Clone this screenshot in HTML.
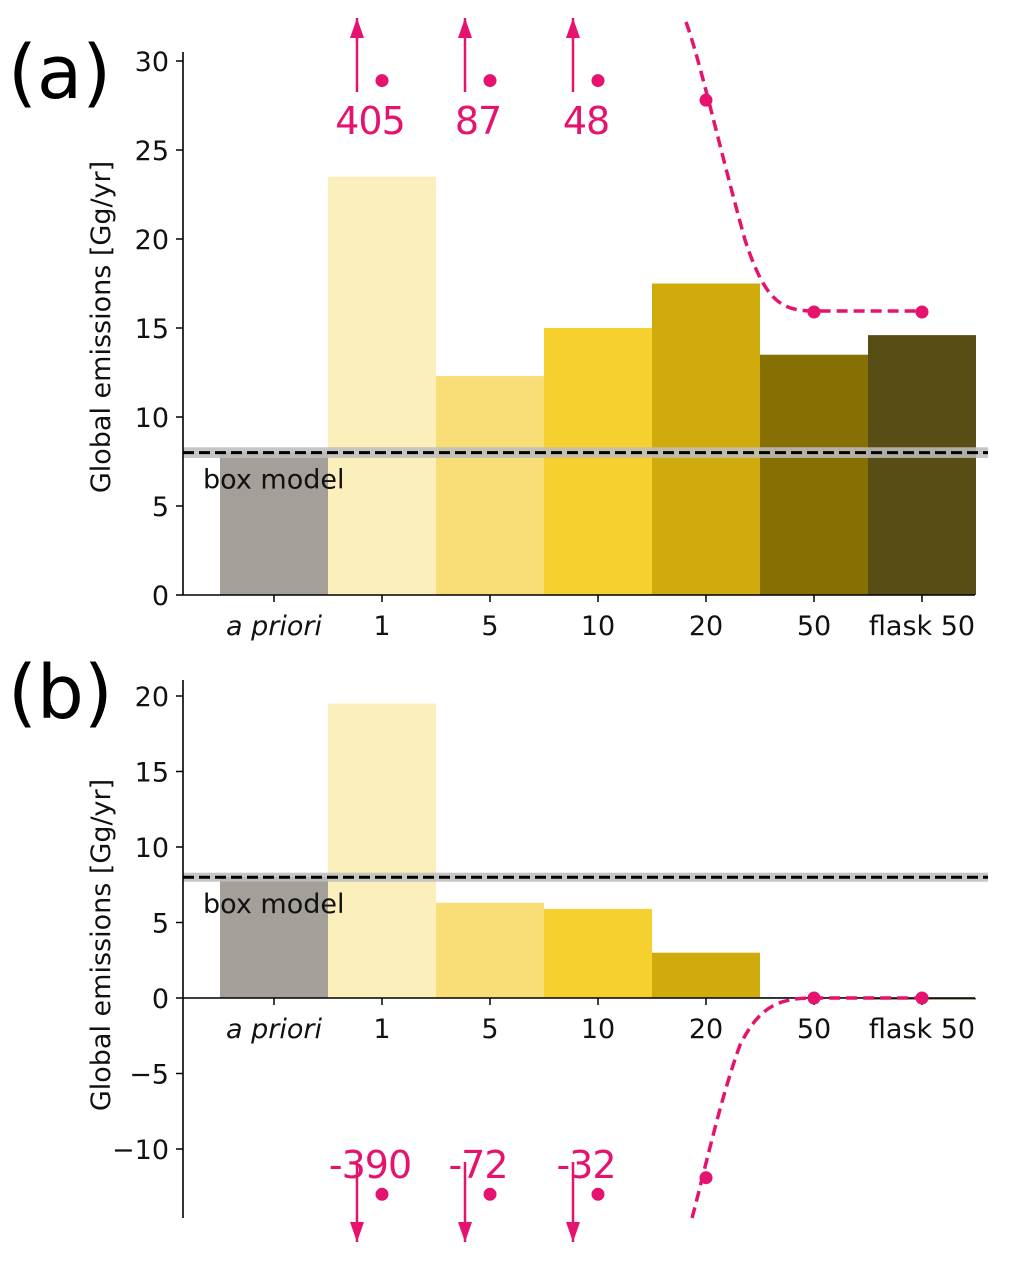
<!DOCTYPE html>
<html><head><meta charset="utf-8">
<style>
html,body{margin:0;padding:0;background:#fff;}
svg{display:block;font-family:"DejaVu Sans","Liberation Sans",sans-serif;}
</style></head>
<body>
<svg id="chart" width="1033" height="1284" viewBox="0 0 1033 1284"></svg>
<script>
const categories = ["a priori","1","5","10","20","50","flask 50"];
const colors = ["#a59f9a","#fbefbb","#f9de78","#f5d02e","#cfab0c","#877003","#594d16"];
const valuesA = [8.0,23.5,12.3,15.0,17.5,13.5,14.6];
const valuesB = [8.0,19.5,6.3,5.9,3.0,0.05,-0.1];
const ticksA = [0,5,10,15,20,25,30];
const ticksB = [-10,-5,0,5,10,15,20];
const boxModel = 8.0;
const offscaleLabelsA = ["405","87","48"];
const offscaleLabelsB = ["-390","-72","-32"];
const dotsA = [28.9,28.9,28.9,27.8,15.9,15.9];
const dotsB = [-13,-13,-13,-11.9,0,0];

const svg = document.getElementById('chart');
const NS = "http://www.w3.org/2000/svg";
const PINK = "#e5126e";
const FS = 27;
function mk(tag, attrs, parent){
  const e = document.createElementNS(NS, tag);
  for (const k in attrs) e.setAttribute(k, attrs[k]);
  (parent||svg).appendChild(e);
  return e;
}
const xC = i => 274 + i*108;
const BW = 108;

function panel(p){
  const g = mk('g',{});
  
  
  const y = v => p.y0 - v*p.scale;
  p.values.forEach((v,i)=>{
    const r = mk('rect',{x:xC(i)-BW/2, y:Math.min(y(v),y(0)), width:BW, height:Math.abs(y(v)-y(0)), fill:colors[i]}, g);
    
    
  });
  const band = mk('rect',{x:183, y:y(boxModel+0.3), width:805, height:y(boxModel-0.3)-y(boxModel+0.3), fill:"#bdbdbd", opacity:0.85}, g);
  
  
  const bl = mk('line',{x1:183, x2:988, y1:y(boxModel), y2:y(boxModel), stroke:"#000", "stroke-width":3, "stroke-dasharray":"11,5"}, g);
  
  
  const bt = mk('text',{x:203, y:y(boxModel)+36, "font-size":FS, fill:"#111"}, g);
  bt.textContent = "box model";
  
  
  const ya = mk('line',{x1:183,x2:183,y1:p.axTop,y2:p.axBot,stroke:"#000","stroke-width":1.6}, g);
  
  
  const xa = mk('line',{x1:183,x2:975,y1:y(0),y2:y(0),stroke:"#000","stroke-width":1.6}, g);
  
  
  p.ticks.forEach(t=>{
    mk('line',{x1:176,x2:183,y1:y(t),y2:y(t),stroke:"#000","stroke-width":1.5}, g);
    const tl = mk('text',{x:169,y:y(t)+10,"font-size":FS,"text-anchor":"end",fill:"#111"}, g);
    tl.textContent = t<0 ? "\u2212"+Math.abs(t) : String(t);
    
    
  });
  categories.forEach((c,i)=>{
    mk('line',{x1:xC(i),x2:xC(i),y1:y(0),y2:y(0)+7,stroke:"#000","stroke-width":1.5}, g);
    const tl = mk('text',{x:xC(i),y:y(0)+40,"font-size":FS,"text-anchor":"middle",fill:"#111","font-style":i==0?"italic":"normal"}, g);
    tl.textContent = c;
    
    
  });
  const yt = mk('text',{x:0,y:0,"font-size":FS,"text-anchor":"middle",fill:"#111",transform:`translate(110,${p.titleY}) rotate(-90)`}, g);
  yt.textContent = "Global emissions [Gg/yr]";
  
  
  const pl = mk('text',{x:8,y:p.letterY,"font-size":74,fill:"#000"}, g);
  pl.textContent = p.letter;
  
  
  const cv = mk('path',{d:p.curve, fill:"none", stroke:PINK, "stroke-width":3.5, "stroke-dasharray":"11,6"}, g);
  
  
  p.dots.forEach((v,k)=>{
    const i = k+1;
    const d = mk('circle',{cx:xC(i), cy:y(v), r:6.5, fill:PINK}, g);
    
    
  });
  p.labels.forEach((l,k)=>{
    const ax = xC(k+1) - 25;
    const a = mk('g',{}, g);
    
    
    mk('line',{x1:ax,x2:ax,y1:p.arrowFrom,y2:p.arrowTo,stroke:PINK,"stroke-width":2.5}, a);
    const dir = p.arrowTo < p.arrowFrom ? -1 : 1;
    mk('polygon',{points:`${ax},${p.arrowTo} ${ax-7},${p.arrowTo-dir*20} ${ax+7},${p.arrowTo-dir*20}`, fill:PINK}, a);
    const t = mk('text',{x:xC(k+1)-12, y:p.labelY, "font-size":38, "text-anchor":"middle", fill:PINK, "letter-spacing":"-1"}, g);
    t.textContent = l;
    
    
  });
}

panel({name:"panel-a", letter:"(a)", letterY:98, y0:595, scale:17.8, axTop:52, axBot:595, ticks:ticksA,
  values:valuesA, dots:dotsA, labels:offscaleLabelsA, arrowFrom:92, arrowTo:18, labelY:134, titleY:327,
  curve:"M686,22 C700,60 720,150 745,240 C765,300 780,311 814,311 L921,311"});
panel({name:"panel-b", letter:"(b)", letterY:718, y0:998, scale:15.1, axTop:680, axBot:1218, ticks:ticksB,
  values:valuesB, dots:dotsB, labels:offscaleLabelsB, arrowFrom:1162, arrowTo:1242, labelY:1178, titleY:945,
  curve:"M692,1218 C705,1170 720,1100 740,1045 C760,1005 780,998 814,998 L921,998"});
</script>
</body></html>
